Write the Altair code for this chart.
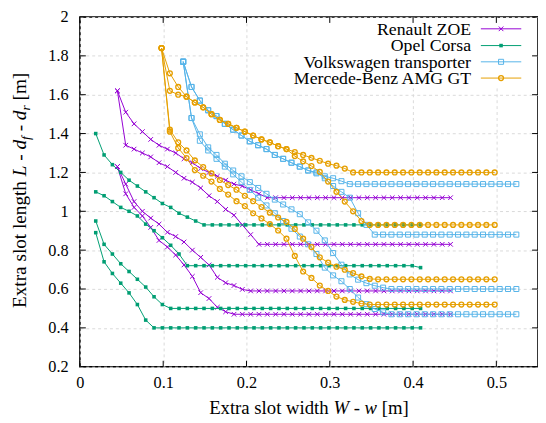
import altair as alt
import pandas as pd

FONT = "Liberation Serif"

CARS = ["Renault ZOE", "Opel Corsa", "Volkswagen transporter", "Mercede-Benz AMG GT"]
COLORS = ["#9400d3", "#009e73", "#56b4e9", "#e69f00"]
X_START = [0.045, 0.019, 0.124, 0.098]
X_STEP = 0.01
XTICKS = [0, 0.1, 0.2, 0.3, 0.4, 0.5]
YTICKS = [0.2, 0.4, 0.6, 0.8, 1.0, 1.2, 1.4, 1.6, 1.8, 2.0]

ZOE_LINES = [
    [1.62, 1.51, 1.45, 1.41, 1.37, 1.34, 1.32, 1.30, 1.27, 1.25, 1.22, 1.20, 1.18, 1.16, 1.14, 1.13, 1.11, 1.09, 1.07] + [1.07] * 22,
    [1.62, 1.34, 1.32, 1.30, 1.28, 1.25, 1.23, 1.20, 1.17, 1.15, 1.12, 1.08, 1.05, 1.01, 0.98, 0.93, 0.88, 0.83] + [0.83] * 23,
    [1.23, 1.14, 1.05, 1.00, 0.965, 0.934, 0.892, 0.87, 0.842, 0.80, 0.763, 0.724, 0.66, 0.632, 0.618, 0.598, 0.59] + [0.59] * 24,
    [1.23, 1.09, 1.02, 0.976, 0.917, 0.85, 0.816, 0.775, 0.724, 0.665, 0.581, 0.551, 0.506, 0.483, 0.47] + [0.47] * 26,
]
CORSA_LINES = [
    [1.40, 1.29, 1.24, 1.20, 1.16, 1.13, 1.10, 1.07, 1.04, 1.02, 0.99, 0.97, 0.95, 0.93] + [0.93] * 26,
    [1.10, 1.08, 1.05, 1.02, 1.00, 0.976, 0.934, 0.90, 0.864, 0.825, 0.78, 0.72] + [0.72] * 27 + [0.71],
    [0.95, 0.83, 0.78, 0.73, 0.69, 0.65, 0.61, 0.56, 0.52, 0.50] + [0.50] * 30,
    [0.89, 0.74, 0.68, 0.63, 0.58, 0.52, 0.44, 0.40] + [0.40] * 32,
]
VW_LINES = [
    [1.77, 1.64, 1.57, 1.52, 1.49, 1.45, 1.42, 1.39, 1.36, 1.34, 1.32, 1.29, 1.27, 1.25, 1.23, 1.21, 1.195, 1.18, 1.17, 1.155, 1.14] + [1.14] * 20,
    [1.77, 1.64, 1.57, 1.52, 1.49, 1.45, 1.42, 1.39, 1.36, 1.34, 1.32, 1.29, 1.27, 1.25, 1.23, 1.21, 1.20, 1.17, 1.13, 1.10, 1.07, 0.99, 0.93, 0.88] + [0.88] * 17,
    [1.77, 1.48, 1.396, 1.329, 1.29, 1.245, 1.21, 1.18, 1.15, 1.12, 1.09, 1.06, 1.035, 1.01, 0.985, 0.943, 0.90, 0.85, 0.785, 0.725, 0.675, 0.648, 0.63, 0.617, 0.607, 0.60] + [0.60] * 15,
    [1.77, 1.48, 1.363, 1.313, 1.27, 1.23, 1.19, 1.15, 1.11, 1.07, 1.03, 0.99, 0.95, 0.91, 0.87, 0.83, 0.78, 0.71, 0.67, 0.64, 0.60, 0.556, 0.522, 0.497, 0.48, 0.47] + [0.47] * 15,
]
MB_LINES = [
    [1.84, 1.71, 1.64, 1.59, 1.56, 1.535, 1.50, 1.47, 1.45, 1.43, 1.41, 1.39, 1.37, 1.355, 1.335, 1.32, 1.305, 1.29, 1.275, 1.26, 1.245, 1.235, 1.22, 1.20] + [1.20] * 17,
    [1.84, 1.62, 1.60, 1.59, 1.56, 1.535, 1.50, 1.47, 1.45, 1.43, 1.41, 1.39, 1.37, 1.355, 1.335, 1.32, 1.284, 1.257, 1.233, 1.203, 1.153, 1.10, 1.05, 1.00, 0.95, 0.93] + [0.93] * 15,
    [1.84, 1.42, 1.355, 1.313, 1.262, 1.228, 1.195, 1.161, 1.135, 1.111, 1.08, 1.052, 1.022, 0.993, 0.968, 0.945, 0.909, 0.859, 0.816, 0.763, 0.736, 0.715, 0.699, 0.682, 0.665, 0.652] + [0.65] * 15,
    [1.84, 1.41, 1.326, 1.274, 1.212, 1.183, 1.153, 1.115, 1.086, 1.052, 1.027, 0.99, 0.963, 0.934, 0.901, 0.859, 0.77, 0.69, 0.657, 0.618, 0.59, 0.561, 0.544, 0.534, 0.525, 0.52] + [0.52] * 15,
]
ALL_LINES = [ZOE_LINES, CORSA_LINES, VW_LINES, MB_LINES]

W, H = 465, 355

XAXIS = alt.Axis(values=XTICKS, format="~g", grid=True, gridColor="#d9d9d9", gridDash=[3, 3],
                 gridWidth=1, ticks=False, tickSize=0, domain=False, labelFont=FONT,
                 labelFontSize=16.5, labelColor="black", labelPadding=8, labelFlush=False,
                 labelOverlap=False, title=None)
YAXIS = alt.Axis(values=YTICKS, format="~g", grid=True, gridColor="#d9d9d9", gridDash=[3, 3],
                 gridWidth=1, ticks=False, tickSize=0, domain=False, labelFont=FONT,
                 labelFontSize=16.5, labelColor="black", labelPadding=12, labelFlush=False,
                 labelOverlap=False, title=None)
XS = alt.Scale(domain=[0, 0.55], nice=False, zero=False)
YS = alt.Scale(domain=[0.2, 2.0], nice=False, zero=False)
XENC = alt.X("x:Q", scale=XS, axis=XAXIS)
YENC = alt.Y("y:Q", scale=YS, axis=YAXIS)

rows = []
for ci, (car, lines) in enumerate(zip(CARS, ALL_LINES)):
    for li, ys in enumerate(lines):
        for i, y in enumerate(ys):
            rows.append({"car": car, "line": f"{ci}-{li}", "i": i,
                         "x": round(X_START[ci] + i * X_STEP, 4), "y": y})
df = pd.DataFrame(rows)

XPATH = "M-1,-1L1,1M-1,1L1,-1"
MARKERS = [
    dict(shape=XPATH, filled=False, size=22, strokeWidth=1),
    dict(shape="square", filled=True, size=13),
    dict(shape="square", filled=False, size=26, strokeWidth=1),
    dict(shape="circle", filled=False, size=24, strokeWidth=1.4),
]

one = pd.DataFrame({"a": [0]})
layers = []

# opaque key box
layers.append(alt.Chart(one).mark_rect(fill="white").encode(
    x=alt.value(204), x2=alt.value(W - 1), y=alt.value(1), y2=alt.value(70)))

for ci, car in enumerate(CARS):
    d = df[df.car == car]
    layers.append(alt.Chart(d).mark_line(color=COLORS[ci], strokeWidth=1).encode(
        x=XENC, y=YENC, detail="line:N", order="i:Q"))
    layers.append(alt.Chart(d).mark_point(color=COLORS[ci], opacity=1, **MARKERS[ci]).encode(
        x=XENC, y=YENC))

# key entries
KEY_Y = [12, 29, 45.5, 62]
for ci, car in enumerate(CARS):
    layers.append(alt.Chart(one).mark_text(text=car, font=FONT, fontSize=18, align="right",
                                           baseline="middle", color="black").encode(
        x=alt.value(397), y=alt.value(KEY_Y[ci] + 1)))
    layers.append(alt.Chart(one).mark_rule(color=COLORS[ci], strokeWidth=1).encode(
        x=alt.value(407), x2=alt.value(448), y=alt.value(KEY_Y[ci])))
    layers.append(alt.Chart(one).mark_point(color=COLORS[ci], opacity=1, **MARKERS[ci]).encode(
        x=alt.value(427.5), y=alt.value(KEY_Y[ci])))

# inward ticks on all four sides
xt = pd.DataFrame({"x": XTICKS})
yt = pd.DataFrame({"y": YTICKS})
layers.append(alt.Chart(xt).mark_rule(color="black", strokeWidth=1).encode(
    x=XENC, y=alt.value(H - 6), y2=alt.value(H)))
layers.append(alt.Chart(xt).mark_rule(color="black", strokeWidth=1).encode(
    x=XENC, y=alt.value(0), y2=alt.value(6)))
layers.append(alt.Chart(yt).mark_rule(color="black", strokeWidth=1).encode(
    y=YENC, x=alt.value(0), x2=alt.value(6)))
layers.append(alt.Chart(yt).mark_rule(color="black", strokeWidth=1).encode(
    y=YENC, x=alt.value(W - 6), x2=alt.value(W)))

# axis titles with italic math parts
REG_W = {"Extra slot width": 6.389, "Extra slot length": 6.611, " ": 0.25, "-": 0.333, "[m]": 1.444}
IT_W = {"W": 0.833, "w": 0.667, "L": 0.556, "d": 0.5, "f": 0.278, "r": 0.389}
X_TITLE = [("Extra slot width", 0, 0), (" ", 0, 0), ("W", 1, 0), (" ", 0, 0), ("-", 0, 0),
           (" ", 0, 0), ("w", 1, 0), (" ", 0, 0), ("[m]", 0, 0)]
Y_TITLE = [("Extra slot length", 0, 0), (" ", 0, 0), ("L", 1, 0), (" ", 0, 0), ("-", 0, 0),
           (" ", 0, 0), ("d", 1, 0), ("f", 1, 1), (" ", 0, 0), ("-", 0, 0), (" ", 0, 0),
           ("d", 1, 0), ("r", 1, 1), (" ", 0, 0), ("[m]", 0, 0)]


def layout(pieces, fs):
    out, off = [], 0.0
    for txt, it, sub in pieces:
        k = 0.7 if sub else 1.0
        w = (IT_W[txt] if it else REG_W[txt]) * fs * k
        if txt.strip():
            out.append((txt, it, sub, off))
        off += w
    return out, off


XFS = 19
xp, xtot = layout(X_TITLE, XFS)
x0 = W / 2 - xtot / 2
for txt, it, sub, off in xp:
    layers.append(alt.Chart(one).mark_text(
        text=txt, font=FONT, fontSize=XFS * (0.7 if sub else 1), align="left", baseline="alphabetic",
        fontStyle="italic" if it else "normal", color="black").encode(
        x=alt.value(x0 + off), y=alt.value(403 + (4 if sub else 0))))

YFS = 19.5
yp, ytot = layout(Y_TITLE, YFS)
y0 = 176 + ytot / 2
for txt, it, sub, off in yp:
    layers.append(alt.Chart(one).mark_text(
        text=txt, font=FONT, fontSize=YFS * (0.7 if sub else 1), align="left", baseline="alphabetic",
        angle=270, fontStyle="italic" if it else "normal", color="black").encode(
        x=alt.value(-55 + (4 if sub else 0)), y=alt.value(y0 - off)))

chart = alt.layer(*layers).properties(
    width=W, height=H,
    autosize=alt.AutoSizeParams(type="none"),
    padding={"left": 73, "top": 6, "right": 0, "bottom": 54},
).configure_view(stroke="black", strokeWidth=1.6)

chart.save("out.html", embed_options={"renderer": "svg", "actions": False})
